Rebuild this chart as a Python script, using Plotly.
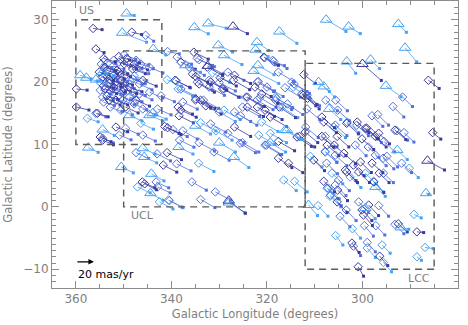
import plotly.graph_objects as go

# Sco-Cen members: galactic position (deg) and proper motion (mas/yr)
# rows are (l, b, pm_l, pm_b)

dark_diamonds = [
    (356.4, 28.6, -10, -1), (348.3, 28.0, -11, -2), (355.8, 25.3, -9, -3),
    (359.9, 18.9, -12, -1), (359.9, 16.0, -14, -2.5), (354.2, 23.8, -13, -3),
    (349.3, 23.8, -14, -4), (347.8, 22.9, -15, -5), (353.9, 22.4, -12, -3),
    (351.0, 21.6, -13, -4), (352.8, 20.3, -12, -3), (354.2, 19.4, -11, -2),
    (352.1, 19.2, -13, -4), (349.9, 18.9, -14, -4), (353.5, 17.8, -12, -3),
    (351.6, 17.1, -13, -4), (349.6, 16.0, -14, -5), (355.5, 15.0, -12, -3),
    (351.6, 12.8, -13, -4), (354.9, 11.2, -12, -4), (346.0, 20.3, -15, -5),
    (348.1, 22.1, -14, -4), (351.0, 24.1, -12, -3), (354.4, 20.8, -12, -3),
    (353.0, 19.8, -13, -3), (352.1, 21.1, -12, -3), (353.9, 18.9, -13, -4),
    (350.6, 20.3, -13, -4), (351.4, 21.9, -12, -3), (348.8, 19.2, -14, -4),
    (353.0, 17.1, -12, -4), (347.4, 17.1, -15, -5), (355.1, 21.6, -11, -2),
    (353.5, 21.9, -12, -3), (349.9, 22.9, -14, -4),
    (354.4, 10.7, -12, -4), (340.9, 8.7, -16, -6), (341.7, 6.7, -15, -6),
    (346.1, 4.0, -14, -5), (345.6, 3.7, -13, -5),
    (338.0, 23.2, -16, -6), (335.6, 21.3, -17, -7), (334.2, 19.7, -17, -7),
    (329.3, 18.9, -18, -7), (326.8, 21.1, -18, -7), (334.9, 17.3, -17, -7),
    (333.9, 17.1, -16, -7), (332.8, 16.2, -17, -7), (338.6, 16.0, -16, -6),
    (338.0, 15.5, -17, -6), (341.4, 12.9, -16, -6), (340.8, 12.7, -15, -6),
    (326.8, 12.8, -18, -8), (335.3, 24.8, -16, -6), (332.5, 22.4, -17, -7),
    (339.2, 20.3, -16, -6), (334.9, 20.9, -17, -7), (329.8, 20.7, -18, -7),
    (327.0, 20.3, -18, -8), (331.8, 20.0, -18, -7), (324.1, 17.6, -19, -8),
    (324.1, 16.0, -18, -8), (322.0, 16.0, -19, -8), (317.4, 16.0, -18, -9),
    (338.4, 14.6, -16, -6), (320.6, 24.0, -16, -7), (322.5, 19.2, -18, -8),
    (321.1, 18.1, -18, -8), (320.4, 15.5, -19, -8), (319.3, 14.4, -18, -8),
    (313.2, 11.3, -17, -9), (317.6, 10.5, -18, -8), (312.7, 18.1, -17, -9),
    (313.7, 11.2, -16, -8), (317.6, 7.8, -15, -8), (315.5, 7.0, -16, -8),
    (312.3, 21.2, -13, -7.5), (312.4, 17.9, -14, -9), (311.5, 17.4, -13, -9),
    (308.5, 14.4, -14, -9), (301.1, 13.6, -13, -9), (312.0, 12.0, -14, -9),
    (308.5, 11.3, -13, -9), (299.4, 12.6, -13, -9), (297.3, 11.3, -12, -9),
    (285.3, 11.9, -9, -5.5), (286.2, 20.3, -12, -7), (300.1, 10.9, -13, -9),
    (308.1, 13.6, -14, -9), (303.3, 13.4, -13, -9), (299.1, 12.6, -13, -9),
    (296.6, 11.8, -12, -9), (293.2, 12.3, -12, -8), (305.3, 11.3, -13, -9),
    (307.4, 9.9, -13, -9), (305.9, 9.9, -13, -9), (310.2, 7.5, -12, -9),
    (303.9, 8.6, -13, -9), (303.6, 5.9, -12, -9), (301.9, 6.7, -12, -9),
    (298.0, 7.0, -12, -8), (308.1, 4.1, -12, -9), (305.3, 0.8, -11, -9),
    (305.2, 2.7, -11, -9), (303.3, 5.6, -12, -9), (300.8, 5.6, -12, -9),
    (300.4, 7.2, -12, -9), (297.6, 4.0, -11, -9), (296.5, 5.4, -11, -8),
    (298.7, 0.3, -11, -9), (300.1, -0.5, -11, -9), (299.8, -1.3, -10, -9),
    (292.5, -2.7, -10, -7), (288.6, -4.0, -7.5, -0.6), (302.2, -5.8, -8, -8),
    (296.4, -7.9, -9, -8), (300.9, -9.6, -6, -8),
]

mid_diamonds = [
    (345.4, 27.5, -9, -5), (349.9, 24.4, -13, -4), (346.4, 22.9, -14, -4),
    (344.6, 22.4, -15, -5), (354.7, 22.9, -12, -3), (352.2, 22.6, -12, -3),
    (347.4, 22.1, -14, -4), (354.4, 20.3, -12, -3), (353.5, 20.8, -12, -3),
    (351.6, 20.0, -13, -3), (350.2, 19.7, -13, -4), (348.1, 20.5, -14, -4),
    (354.9, 18.7, -12, -3), (352.8, 18.6, -12, -3), (351.0, 17.9, -13, -4),
    (348.8, 17.6, -14, -4), (346.7, 18.1, -14, -5), (344.6, 18.4, -15, -5),
    (342.2, 17.8, -15, -5), (354.2, 16.8, -12, -3), (352.8, 16.0, -13, -4),
    (350.6, 15.5, -13, -4), (347.8, 16.5, -14, -5), (346.0, 15.7, -14, -5),
    (342.9, 15.7, -15, -5), (355.8, 15.0, -11, -3), (349.6, 12.6, -14, -5),
    (346.0, 11.5, -14, -5), (350.9, 11.5, -13, -4), (354.4, 11.0, -12, -4),
    (354.7, 19.8, -12, -3), (353.9, 21.2, -12, -3), (351.6, 20.7, -13, -3),
    (349.6, 21.1, -13, -4), (352.2, 18.9, -13, -4), (351.0, 19.2, -13, -4),
    (348.1, 18.6, -14, -4), (346.7, 19.7, -14, -5), (354.4, 17.6, -12, -3),
    (350.2, 17.1, -13, -4), (353.9, 23.5, -12, -3), (352.1, 23.5, -12, -3),
    (347.4, 23.5, -14, -4), (348.8, 22.9, -14, -4), (351.0, 23.2, -13, -3),
    (340.8, 24.9, -13, -2),
    (347.4, 8.7, -14, -5), (343.0, 8.5, -15, -6), (338.9, 6.9, -16, -6),
    (343.2, 4.0, -14, -5), (342.9, 3.2, -14, -5), (340.6, 1.1, -15, -6),
    (335.7, 4.0, -16, -7), (333.9, 1.2, -16, -7), (330.8, 2.4, -17, -7),
    (325.6, 10.2, -17, -8), (320.1, 9.9, -17, -8), (331.1, 8.8, -17, -7),
    (339.0, 20.2, -16, -6), (338.0, 18.9, -16, -6), (336.3, 22.4, -17, -7),
    (334.6, 23.8, -17, -6), (332.1, 20.3, -17, -7), (332.1, 19.2, -17, -7),
    (330.0, 19.9, -18, -7), (328.2, 21.6, -18, -7), (324.4, 17.6, -19, -8),
    (325.1, 16.0, -19, -8), (337.6, 16.8, -16, -6), (326.8, 15.2, -18, -8),
    (325.5, 14.6, -18, -8), (339.7, 12.4, -16, -6), (337.6, 12.2, -16, -7),
    (331.8, 13.3, -17, -7), (328.2, 11.8, -18, -8), (338.3, 10.7, -16, -6),
    (334.2, 10.3, -17, -7), (325.1, 10.3, -18, -8), (338.8, 24.0, -16, -6),
    (334.2, 23.6, -17, -6), (334.6, 20.0, -17, -7), (335.0, 17.1, -17, -7),
    (333.3, 17.1, -17, -7), (329.0, 18.9, -18, -7), (322.0, 20.0, -18, -8),
    (321.5, 17.5, -18, -8), (318.2, 17.1, -18, -8), (314.3, 19.7, -17, -8),
    (318.8, 23.5, -16, -7), (317.6, 21.6, -17, -8), (314.8, 20.0, -17, -8),
    (321.8, 20.1, -18, -8), (320.0, 19.2, -18, -8), (316.2, 19.1, -17, -8),
    (322.1, 17.1, -18, -8), (318.0, 17.4, -18, -8), (315.7, 16.5, -17, -9),
    (320.4, 9.9, -17, -8), (320.5, 23.9, -12, -6), (318.6, 23.3, -12, -3.5),
    (311.6, 17.9, -14, -9), (307.7, 17.1, -13, -9), (305.6, 17.1, -13, -9),
    (305.2, 15.5, -13, -9), (311.6, 15.7, -14, -9), (311.9, 12.8, -14, -9),
    (298.3, 12.0, -12, -9), (295.5, 10.5, -12, -9), (298.0, 14.6, -12, -9),
    (296.8, 14.8, -12, -9), (293.6, 16.1, -12, -9), (291.6, 17.6, -11, -8),
    (292.8, 12.2, -12, -8), (291.3, 11.9, -11, -8), (305.7, 13.1, -13, -9),
    (301.2, 13.1, -13, -9), (307.8, 11.3, -13, -9), (301.5, 9.9, -12, -9),
    (298.8, 9.6, -12, -9), (297.3, 8.3, -12, -9), (294.9, 8.1, -12, -9),
    (291.8, 7.0, -11, -8), (295.6, 5.4, -11, -8), (307.4, 3.0, -12, -9),
    (305.7, 3.5, -12, -9), (306.7, 1.9, -12, -9), (300.8, 0.8, -11, -9),
    (296.6, 0.2, -11, -9), (293.2, -2.8, -10, -8), (307.8, 8.8, -13, -9),
    (305.7, 8.3, -13, -9), (307.5, 7.0, -12, -9), (305.0, 4.3, -12, -9),
    (295.7, 7.8, -12, -9), (303.4, -0.5, -11, -9), (304.7, -1.5, -11, -9),
    (299.6, -3.0, -10, -9), (297.2, -3.0, -10, -8), (301.9, -6.3, -8, -8),
    (299.0, -5.7, -9, -8),
]

light_diamonds = [
    (357.6, 14.2, -12, -3), (340.9, 20.4, -16, -6), (346.4, 13.4, -14, -5),
    (347.8, 21.0, -14, -4), (354.2, 22.4, -12, -3), (348.8, 20.3, -14, -4),
    (352.8, 17.6, -13, -4), (350.2, 18.4, -13, -4), (347.1, 3.2, -14, -5),
    (342.5, 0.8, -15, -6), (334.3, 7.0, -17, -7), (340.4, 1.0, -15, -6),
    (316.5, 4.3, -14, -9), (314.2, 4.1, -14, -9), (321.7, 11.5, -18, -8),
    (319.3, 11.8, -18, -8), (338.6, 18.9, -16, -6), (330.0, 15.2, -18, -8),
    (333.9, 13.5, -17, -7), (330.7, 12.2, -18, -8), (331.4, 21.5, -19, -8),
    (329.0, 15.5, -18, -8), (318.2, 17.6, -18, -9), (314.5, 19.2, -18, -9),
    (316.9, 16.0, -18, -9), (321.1, 13.6, -18, -8),
    (303.2, 13.6, -13, -9), (306.0, 12.8, -13, -9), (310.9, 8.1, -13, -9),
    (307.8, 8.9, -13, -9), (290.2, 6.2, -10, -8), (302.6, 4.8, -12, -9),
    (299.4, 5.4, -12, -9), (297.7, 4.1, -11, -9), (309.3, 0.2, -11, -9),
    (306.4, 5.4, -12, -9), (307.1, 3.0, -12, -9), (306.8, 1.7, -12, -9),
    (302.1, -3.5, -9, -8), (305.6, -4.6, -8, -8), (299.0, -6.6, -9, -8),
    (295.9, -6.1, -9, -7), (289.2, -1.2, -8, -3), (286.9, -6.5, -9, -1),
    (288.6, -8.0, -5, -3), (295.6, -8.9, -9, -8),
]

light_triangles = [
    (349.4, 31.0, -8.5, -1.7), (350.3, 27.9, -27, -8), (343.8, 25.3, -14, -5),
    (359.1, 21.1, -12, -3), (357.8, 20.7, -12, -3), (355.8, 20.4, -12, -3),
    (354.4, 21.6, -12, -3), (348.8, 14.7, -14, -5), (344.6, 14.7, -15, -5),
    (343.9, 15.0, -15, -5), (354.4, 12.4, -13, -5), (335.2, 28.8, -15.5, -5.6),
    (332.3, 29.4, -20, -4), (330.2, 25.9, -16, -5.7), (329.0, 24.3, -20, -7.9),
    (317.4, 28.1, -19.5, -10), (322.1, 26.4, -13, -7), (322.4, 25.2, -14, -6),
    (321.9, 22.7, -18, -8), (322.8, 21.8, -28, -10.7), (307.6, 30.0, -22, -10),
    (302.9, 28.9, -13, -6), (292.5, 29.3, -9, -7), (291.1, 25.5, -13, -12),
    (303.3, 23.3, -10, -10), (298.3, 23.6, -10, -7.6), (295.1, 19.4, -17, -9.3),
    (286.7, 2.2, -3, -1), (357.4, 9.5, -11, -4), (346.0, 9.4, -14, -5),
    (345.7, 8.0, -14, -5), (350.5, 6.4, -13.5, -5), (344.2, 5.3, -14, -6),
    (344.4, 2.2, -14, -6), (328.0, 0.7, -18, -8.5), (338.5, 9.6, -16, -6),
    (326.9, 8.0, -16.5, -9), (319.3, 10.3, -17, -8), (316.2, 12.3, -17, -8),
    (311.3, 0.3, -10, -9), (337.1, 22.7, -17, -6), (335.0, 13.0, -17, -7),
    (330.0, 10.3, -18, -8), (315.8, 12.3, -17, -8), (309.2, 20.0, -12, -8),
    (308.1, 19.3, -12, -9), (307.0, 15.7, -13, -9), (292.7, 9.1, -11, -8),
    (297.3, 3.2, -11, -8), (299.4, -0.2, -11, -9), (292.0, -3.3, -9, -1.5),
]

dark_triangles = [
    (327.1, 28.9, -16, -6), (332.4, 22.6, -17, -7), (300.0, 22.9, -21, -14),
    (328.0, 1.0, -18.5, -10.8), (286.4, 7.4, -19, -7.9),
]

# subgroup boundaries: (name, l_min, l_max, b_min, b_max)
regions = [
    ("US", 342, 360, 10, 30),
    ("UCL", 312, 350, 0, 25),
    ("LCC", 285, 312, -10, 23),
]
region_labels = [("US", 357.7, 31.4), ("UCL", 346.0, -1.4), ("LCC", 288.2, -11.5)]

reference_pm = 20          # mas/yr, key vector
PM_SCALE = 0.188           # degrees drawn per mas/yr

DARK = "#3a3a9e"
MID = "#5470dc"
LIGHT = "#45a2f4"
AXIS_GREY = "#8c8c8c"
TEXT_GREY = "#7f7f7f"


def add_group(fig, rows, color, symbol, size):
    lx, ly, ex, ey = [], [], [], []
    for l, b, pml, pmb in rows:
        l2 = l + pml * PM_SCALE
        b2 = b + pmb * PM_SCALE
        lx += [l, l2, None]
        ly += [b, b2, None]
        ex.append(l2)
        ey.append(b2)
    fig.add_trace(go.Scatter(x=lx, y=ly, mode="lines",
                             line=dict(color=color, width=0.8), hoverinfo="skip"))
    fig.add_trace(go.Scatter(x=ex, y=ey, mode="markers",
                             marker=dict(symbol="square", size=3, color=color,
                                         line=dict(width=0)), hoverinfo="skip"))
    fig.add_trace(go.Scatter(x=[r[0] for r in rows], y=[r[1] for r in rows],
                             mode="markers",
                             marker=dict(symbol=symbol, size=size, color=color,
                                         line=dict(width=1, color=color))))


fig = go.Figure()
add_group(fig, light_diamonds, LIGHT, "diamond-open", 6.5)
add_group(fig, mid_diamonds, MID, "diamond-open", 6.5)
add_group(fig, dark_diamonds, DARK, "diamond-open", 6.5)
add_group(fig, light_triangles, LIGHT, "triangle-up-open", 10)
add_group(fig, dark_triangles, DARK, "triangle-up-open", 10)

for name, l0, l1, b0, b1 in regions:
    fig.add_shape(type="rect", x0=l0, x1=l1, y0=b0, y1=b1, xref="x", yref="y",
                  line=dict(color="#5a5a5a", width=1.4, dash="7px,5px"))

for text, lx, by in region_labels:
    fig.add_annotation(x=lx, y=by, text=text, showarrow=False,
                       font=dict(family="DejaVu Sans", size=11, color=TEXT_GREY))

# key vector for the proper-motion scale
key_l, key_b = 360.0, -8.8
fig.add_annotation(x=key_l - reference_pm * PM_SCALE, y=key_b, ax=key_l, ay=key_b,
                   xref="x", yref="y", axref="x", ayref="y", text="",
                   showarrow=True, arrowhead=2, arrowsize=0.9, arrowwidth=1.2,
                   arrowcolor="black")
fig.add_annotation(x=key_l, y=key_b - 0.6, text=f"{reference_pm} mas/yr",
                   showarrow=False, xanchor="left", yanchor="top",
                   font=dict(family="DejaVu Sans", size=11, color="black"))

axis_common = dict(
    showgrid=False, zeroline=False, showline=True, linecolor=AXIS_GREY,
    linewidth=1, mirror="allticks", ticks="inside", ticklen=7,
    tickcolor=AXIS_GREY, tickwidth=1, automargin=False,
    tickfont=dict(family="DejaVu Sans", size=12, color=TEXT_GREY),
)

fig.update_layout(
    width=468, height=325,
    margin=dict(l=52, r=10, t=1, b=37),
    paper_bgcolor="white", plot_bgcolor="white",
    showlegend=False,
    xaxis=dict(range=[365, 280], tickmode="linear", tick0=0, dtick=20,
               minor=dict(tick0=0, dtick=5, ticks="inside", ticklen=4,
                          tickcolor=AXIS_GREY),
               title=dict(text="Galactic Longitude (degrees)", standoff=4,
                          font=dict(family="DejaVu Sans", size=11.5, color=TEXT_GREY)),
               **axis_common),
    yaxis=dict(range=[-13, 33], tickmode="linear", tick0=0, dtick=10,
               minor=dict(tick0=0, dtick=1, ticks="inside", ticklen=4,
                          tickcolor=AXIS_GREY),
               title=dict(text="Galactic Latitude (degrees)", standoff=8,
                          font=dict(family="DejaVu Sans", size=11.5, color=TEXT_GREY)),
               **axis_common),
)

fig.write_html("out.html")
